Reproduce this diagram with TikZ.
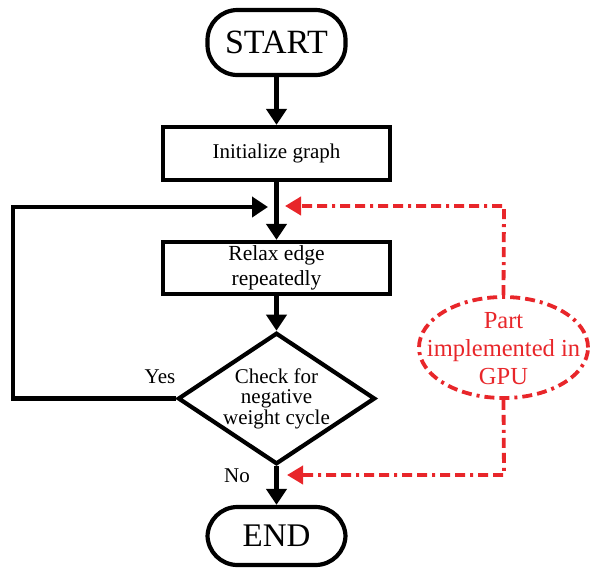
\documentclass[tikz,border=0pt]{standalone}
\usepackage{fontspec}
\setmainfont{Liberation Serif}
\usetikzlibrary{shapes.geometric,arrows.meta}
\definecolor{gpured}{RGB}{232,38,42}
\tikzset{
  flow/.style={draw=black, line width=4.2pt},
  stadium/.style={flow, rounded corners=30pt, inner sep=0pt,
    minimum width=138pt},
  procbox/.style={flow, inner sep=0pt, minimum width=227pt,
    align=center},
  decision/.style={flow, diamond, aspect=1.5, inner sep=0pt,
    minimum width=195pt, minimum height=129pt, align=center,
    font=\fontsize{21}{20.5}\selectfont},
  dashdot/.style={dash pattern=on 10pt off 5pt on 10pt off 5pt on 3pt off 5pt},
  gpububble/.style={draw=gpured, ellipse, line width=3.8pt, dashdot,
    minimum width=169pt, minimum height=101pt, inner sep=0pt},
  gputext/.style={align=center, text=gpured, inner sep=0pt,
    font=\fontsize{24.5}{28}\selectfont},
  arr/.style={line width=4.2pt, -{Triangle[length=16pt,width=20pt]}},
  redarr/.style={draw=gpured, line width=3.8pt, dashdot,
    -{Triangle[length=16pt,width=18pt]}},
  branch/.style={font=\fontsize{21}{21}\selectfont}
}
\begin{document}
\begin{tikzpicture}[x=1pt,y=-1pt]
\useasboundingbox (0,0) rectangle (592,571);

% flow chart nodes
\node[stadium, minimum height=65pt, font=\fontsize{34}{34}\selectfont] (start) at (276.5,42.5) {START};
\node[procbox, minimum height=53pt, font=\fontsize{21}{25}\selectfont] (init) at (276.5,153.5) {Initialize graph};
\node[procbox, minimum height=52pt, font=\fontsize{21.5}{25}\selectfont] (relax) at (276.5,268) {Relax edge\\repeatedly};
\node[decision] (chk) at (276.5,398.5) {Check for\\negative\\weight cycle};
\node[stadium, minimum height=58pt, font=\fontsize{33}{33}\selectfont] (end) at (276.5,536) {END};

% GPU annotation: dash-dot bubble with its caption
\node[gpububble] (gpu) at (503.5,347.5) {};
\node[gputext] (gpulabel) at (503.5,349) {Part\\implemented in\\GPU};

% branch labels
\node[branch] (yes) at (160,377) {Yes};
\node[branch] (no) at (237,476) {No};

% helper points for the loop-back and the annotation arrows
\coordinate (loopL) at (13,398.5);
\coordinate (loopT) at (13,207);
\coordinate (loopE) at (268,207);
\coordinate (gpuT) at (504,206);
\coordinate (gpuTE) at (285,206);
\coordinate (gpuB) at (504,475);
\coordinate (gpuBE) at (287,475);

% main flow
\draw[arr] (start.south) -- (init.north);
\draw[arr] (init.south) -- (relax.north);
\draw[arr] (relax.south) -- (chk.north);
\draw[arr] (chk.south) -- (end.north);

% repeat loop
\draw[arr, line join=miter] (chk.west) -- (loopL) -- (loopT) -- (loopE);

% GPU part markers
\draw[redarr] (gpu.north) -- (gpuT) -- (gpuTE);
\draw[redarr] (gpu.south) -- (gpuB) -- (gpuBE);
\end{tikzpicture}
\end{document}
